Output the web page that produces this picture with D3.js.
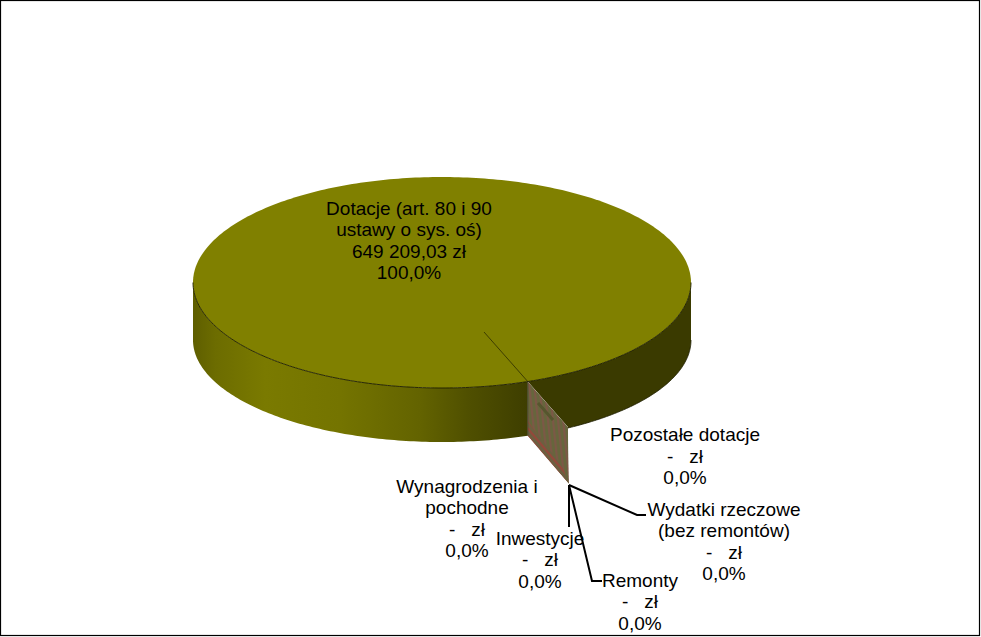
<!DOCTYPE html>
<html><head><meta charset="utf-8">
<script src="https://cdn.jsdelivr.net/npm/d3@7/dist/d3.min.js"></script>
<style>html,body{margin:0;padding:0;background:#fff}svg{display:block}text{font-family:"Liberation Sans",Arial,sans-serif;font-size:19px;fill:#000;white-space:pre;text-anchor:middle;dominant-baseline:central}</style>
</head><body>
<script>
const categories = [["Dotacje (art. 80 i 90","ustawy o sys. oś)"],["Pozostałe dotacje"],["Wydatki rzeczowe","(bez remontów)"],["Remonty"],["Inwestycje"],["Wynagrodzenia i","pochodne"]];
const values = [649209.03,0,0,0,0,0];
const amountLabels = ["649 209,03 zł","-   zł","-   zł","-   zł","-   zł","-   zł"];
const percentLabels = ["100,0%","0,0%","0,0%","0,0%","0,0%","0,0%"];

const W=981,H=637;
const svg=d3.select("body").append("svg").attr("width",W).attr("height",H);
const defs=svg.append("defs");
const labelPos=[[409,207.5],[685,434],[724,508.5],[640,579.5],[540,537.5],[467,485.5]];
const leaders=[null,null,[[637,515],[646,515]],[[592,581],[602,581]],[[569,527]],null];

const cx=442,rx=249,topCy=282.5,topRy=105.5,botCy=340,botRy=102;
const pie=d3.pie().sort(null).value(d=>d).startAngle(2.79).endAngle(2.79+2*Math.PI);
const arcs=pie(values);
const seam=arcs[0].startAngle;
const pTop=a=>[cx+rx*Math.sin(a),topCy-topRy*Math.cos(a)];
const pBot=a=>[cx+rx*Math.sin(a),botCy-botRy*Math.cos(a)];
const sample=(a,b,n=120)=>d3.range(n+1).map(i=>a+(b-a)*i/n);
const line=d3.line();

// side gradient
const gx=d3.scaleLinear().domain([193,527]).range([0,100]);
const g=defs.append("linearGradient").attr("id","side").attr("gradientUnits","userSpaceOnUse").attr("x1",193).attr("x2",527).attr("y1",0).attr("y2",0);
[[193,"#5e5e00"],[215,"#6c6c00"],[265,"#7a7a00"],[340,"#747400"],[420,"#636300"],[470,"#4f4f00"],[527,"#3e3e00"]].forEach(s=>g.append("stop").attr("offset",gx(s[0])+"%").attr("stop-color",s[1]));

// hatch patterns
const p1=defs.append("pattern").attr("id","hv").attr("patternUnits","userSpaceOnUse").attr("width",5).attr("height",5).attr("patternTransform","rotate(-6)");
p1.append("rect").attr("width",5).attr("height",5).attr("fill","#66663c");
p1.append("rect").attr("width",2.2).attr("height",5).attr("fill","#7c5846");
const p2=defs.append("pattern").attr("id","hd").attr("patternUnits","userSpaceOnUse").attr("width",5).attr("height",5).attr("patternTransform","rotate(50)");
p2.append("rect").attr("width",5).attr("height",5).attr("fill","#6b6040");
p2.append("rect").attr("width",5).attr("height",2.2).attr("fill","#94483a");

// angles on the visible rim
const aRightExtreme=Math.PI/2;
const aLeftExtreme=3*Math.PI/2;
const aCorner=Math.PI-Math.asin((568-cx)/rx);

// left side wall
const leftA=sample(seam,aLeftExtreme);
svg.append("path").attr("fill","url(#side)").attr("stroke","none")
  .attr("d",line(leftA.map(pTop).concat(leftA.slice().reverse().map(pBot)))+"Z");
// right dark wall
const rightTop=sample(aRightExtreme,seam);
const rightBot=sample(aRightExtreme,aCorner);
svg.append("path").attr("fill","#3a3a00").attr("stroke","none")
  .attr("d",line(rightTop.map(pTop).concat([[568,427]],rightBot.slice().reverse().map(pBot)))+"Z");
svg.append("path").attr("fill","none").attr("stroke","#1c1c00").attr("stroke-width",.8)
  .attr("d",line(rightBot.map(pBot)));

// cut face
const c1=pTop(seam),c2=[568,427],c3=[569,484],c4=pBot(seam);
const face=[c1,c2,c3,c4];
defs.append("clipPath").attr("id","fc").append("path").attr("d",line(face)+"Z");
const fg=svg.append("g").attr("clip-path","url(#fc)");
fg.append("path").attr("d",line(face)+"Z").attr("fill","url(#hv)");
fg.append("path").attr("d",line([[527,420],[562,466],[569,484],[527,437]])+"Z").attr("fill","url(#hd)");
fg.append("path").attr("d",line([[538,403],[553,420]])).attr("stroke","#56562e").attr("stroke-width",3).attr("fill","none");
svg.append("path").attr("d",line([c4,c1])).attr("stroke","#3a3a20").attr("stroke-width",.8).attr("fill","none");

// top face
const topPts=sample(arcs[0].startAngle,arcs[0].endAngle,360).map(pTop);
svg.append("path").attr("d",line(topPts)+"Z").attr("fill","#808000").attr("stroke","none");
svg.append("path").attr("fill","none").attr("stroke","#1c1c00").attr("stroke-width",.9)
  .attr("d",line(sample(aLeftExtreme-Math.PI,aLeftExtreme,200).map(a=>pTop(a))));
svg.append("path").attr("fill","none").attr("stroke","#2c2c00").attr("stroke-width",.8)
  .attr("d",line([[484,332],c1]));

// leader lines
leaders.forEach(l=>{ if(l) svg.append("path").attr("fill","none").attr("stroke","#000").attr("stroke-width",2)
  .attr("d",line([[569,485],...l])); });

// labels
categories.forEach((c,i)=>{
  const lines=[...c,amountLabels[i],percentLabels[i]];
  const t=svg.append("text");
  lines.forEach((s,j)=>t.append("tspan").attr("x",labelPos[i][0]).attr("y",labelPos[i][1]+j*21.6).text(s));
});

// frame
svg.append("rect").attr("x",.5).attr("y",.5).attr("width",979).attr("height",635).attr("fill","none").attr("stroke","#000").attr("stroke-width",1.2);
</script>
</body></html>
